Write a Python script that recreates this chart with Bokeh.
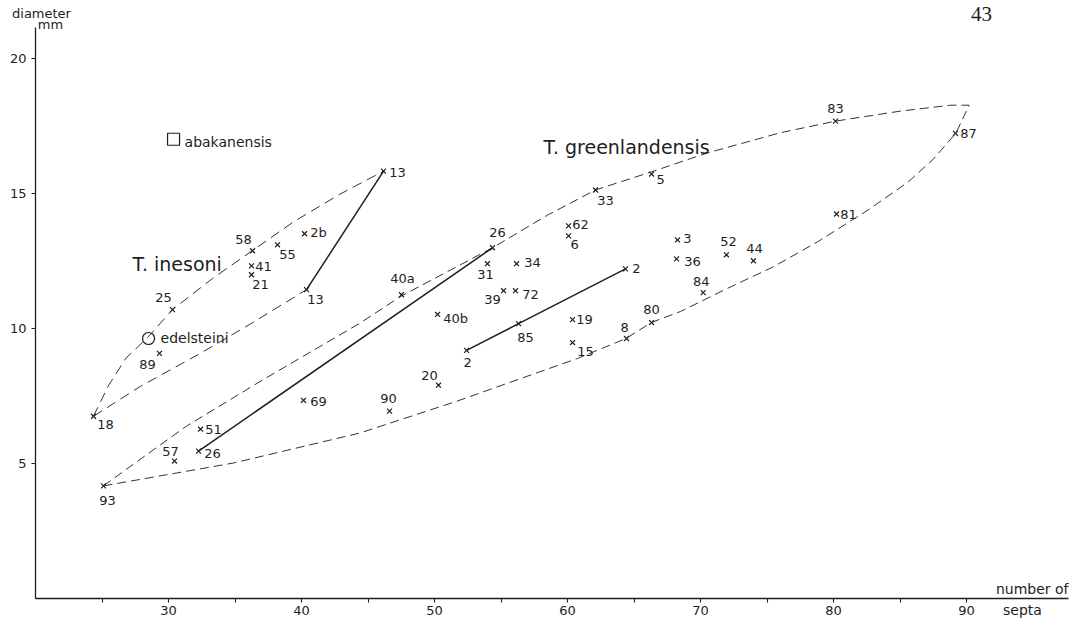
from bokeh.plotting import figure
from bokeh.models import ColumnDataSource, FixedTicker, Range1d
from bokeh.core.properties import value
from bokeh.embed import file_html
from bokeh.resources import INLINE

FONT = "DejaVu Sans"
INK = "#1e1e1e"

# ---- specimens (number of septa vs diameter in mm) ----
specimen_labels = ["18", "93", "57", "51", "26", "89", "25", "58", "41", "21",
                   "55", "2b", "13", "13", "69", "40a", "26", "31", "34", "39",
                   "72", "40b", "85", "2", "2", "62", "6", "19", "15", "8",
                   "80", "20", "90", "33", "5", "3", "36", "52", "44", "84",
                   "81", "83", "87"]
septa = [24.36, 25.11, 30.45, 32.41, 32.26, 29.32, 30.30, 36.32, 36.24, 36.24,
         38.20, 40.23, 40.38, 46.17, 40.15, 47.52, 54.36, 53.98, 56.17, 55.19,
         56.09, 50.23, 56.32, 52.41, 64.36, 60.08, 60.08, 60.38, 60.38, 64.44,
         66.32, 50.30, 46.62, 62.11, 66.32, 68.27, 68.20, 71.95, 73.98, 70.20,
         80.23, 80.15, 89.17]
diameter = [6.75, 4.17, 5.09, 6.27, 5.46, 9.08, 10.70, 12.88, 12.32, 11.99,
            13.10, 13.51, 11.44, 15.83, 7.34, 11.25, 12.99, 12.40, 12.40, 11.40,
            11.40, 10.52, 10.18, 9.19, 12.21, 13.80, 13.43, 10.33, 9.48, 9.63,
            10.22, 7.90, 6.94, 15.13, 15.72, 13.28, 12.58, 12.73, 12.51, 11.33,
            14.24, 17.68, 17.23]

# label placement relative to each mark (screen pixels, +y down)
label_dx = [12, 4, -4, 13, 14, -12, -9, -9, 12, 9,
            10, 14, 9, 14, 15, 1, 5, -2, 16, -11,
            15, 18, 7, 1, 11, 12, 6, 12, 13, -2,
            0, -9, -1, 10, 9, 10, 16, 2, 1, -2,
            12, 0, 13]
label_dy = [8, 15, -10, 0, 2, 11, -12, -11, 1, 10,
            10, -1, 10, 1, 1, -16, -15, 11, -1, 9,
            4, 4, 14, 12, 0, -1, 9, 0, 9, -11,
            -13, -10, -13, 11, 5, -1, 3, -13, -12, -11,
            0, -13, 0]

# ---- envelopes ----
greenl_septa = [25.1, 28.0, 31.4, 37.1, 44.4, 47.5, 54.4, 58.5, 62.1, 66.3,
                70.5, 76.0, 80.15, 85.0, 88.8, 90.2,
                89.2, 87.5, 85.6, 82.6, 78.8, 75.5, 72.0, 68.5, 66.3, 64.4,
                60.75, 56.5, 51.7, 44.4, 34.9, 25.1]
greenl_diam = [4.17, 5.2, 6.4, 8.1, 10.2, 11.2, 13.0, 14.2, 15.13, 15.8,
               16.5, 17.25, 17.68, 18.05, 18.27, 18.27,
               17.23, 16.27, 15.42, 14.39, 13.21, 12.29, 11.48, 10.63, 10.22, 9.63,
               8.89, 8.15, 7.31, 6.13, 5.02, 4.17]
ines_upper_septa = [24.36, 25.5, 26.8, 28.5, 30.3, 33.3, 36.3, 39.4, 42.8, 46.17]
ines_upper_diam = [6.75, 7.9, 8.9, 9.7, 10.7, 11.85, 12.88, 13.95, 14.95, 15.83]
ines_lower_septa = [24.36, 27.9, 32.4, 36.2, 40.38]
ines_lower_diam = [6.75, 7.86, 9.08, 10.18, 11.44]

# ---- growth lines of single specimens ----
growth_13_septa = [40.38, 46.17]
growth_13_diam = [11.44, 15.83]
growth_26_septa = [32.26, 54.36]
growth_26_diam = [5.46, 12.99]
growth_2_septa = [52.41, 56.32, 64.36]
growth_2_diam = [9.19, 10.18, 12.21]

# ---- other species ----
other_names = ["abakanensis", "edelsteini"]
other_septa = [30.38, 28.5]
other_diam = [17.01, 9.63]

species_names = ["T. inesoni", "T. greenlandensis"]
species_septa = [27.3, 58.2]
species_diam = [12.4, 16.72]

x_ticks = [30, 40, 50, 60, 70, 80, 90]
x_minor = [25, 35, 45, 55, 65, 75, 85]
y_ticks = [5, 10, 15, 20]
x_axis_extent = (20, 97.67)
y_axis_extent = (0, 21.15)

W, H = 1076, 620
PX_X, PX_Y = 13.3, 27.0
x0 = 20 - 35 / PX_X
y0 = -(H - 598) / PX_Y
p = figure(width=W, height=H, output_backend="svg", toolbar_location=None,
           x_range=Range1d(x0, x0 + W / PX_X), y_range=Range1d(y0, y0 + H / PX_Y),
           min_border=0, min_border_left=0, min_border_right=0,
           min_border_top=0, min_border_bottom=0)
p.outline_line_color = None
p.grid.visible = False
p.background_fill_color = "white"
p.border_fill_color = "white"

for ax in (p.xaxis[0], p.yaxis[0]):
    ax.axis_line_color = INK
    ax.axis_line_width = 1.3
    ax.major_tick_line_color = INK
    ax.minor_tick_line_color = INK
    ax.major_tick_line_width = 1.1
    ax.minor_tick_line_width = 1.1
    ax.major_tick_in = 0
    ax.major_tick_out = 4
    ax.minor_tick_in = 0
    ax.minor_tick_out = 4
    ax.major_label_text_font = FONT
    ax.major_label_text_font_size = "13px"
    ax.major_label_text_color = INK

p.xaxis.ticker = FixedTicker(ticks=x_ticks, minor_ticks=x_minor)
p.xaxis.fixed_location = 0
p.xaxis.bounds = x_axis_extent
p.xaxis.major_label_standoff = 3
p.yaxis.ticker = FixedTicker(ticks=y_ticks)
p.yaxis.fixed_location = 20
p.yaxis.bounds = y_axis_extent
p.yaxis.major_label_standoff = 5

# envelopes
p.line(greenl_septa, greenl_diam, line_color="#333", line_width=1.0, line_dash="9 5")
p.line(ines_upper_septa, ines_upper_diam, line_color="#333", line_width=1.0, line_dash="10 6")
p.line(ines_lower_septa, ines_lower_diam, line_color="#333", line_width=1.0, line_dash="10 6")

# growth lines
for xs, ys in [(growth_13_septa, growth_13_diam), (growth_26_septa, growth_26_diam),
               (growth_2_septa, growth_2_diam)]:
    p.line(xs, ys, line_color=INK, line_width=1.5)

src = ColumnDataSource(dict(x=septa, y=diameter, t=specimen_labels,
                            dx=label_dx, dy=label_dy))
p.scatter("x", "y", source=src, marker="x", size=7, line_width=1.2, color=INK)
p.text("x", "y", text="t", source=src, x_offset="dx", y_offset="dy",
       text_align="center", text_baseline="middle", text_font=value(FONT),
       text_font_size="13px", text_color=INK)

# other species
p.scatter([other_septa[0]], [other_diam[0]], marker="square", size=12,
          fill_color=None, line_color=INK, line_width=1.2)
p.scatter([other_septa[1]], [other_diam[1]], marker="circle", size=12,
          fill_color=None, line_color=INK, line_width=1.2)
p.text(other_septa, other_diam, text=other_names, x_offset=[11, 12], y_offset=[3, 0],
       text_align="left", text_baseline="middle", text_font=value(FONT),
       text_font_size="14px", text_color=INK)

p.text(species_septa, species_diam, text=species_names, text_align="left",
       text_baseline="middle", text_font=value(FONT), text_font_size="19px",
       text_color=INK)

# axis titles (placed by pixel offsets from the axis ends) and page number
p.text([x_axis_extent[1]], [0], text=["number of"], y_offset=[-10],
       text_align="right", text_baseline="middle", text_font=value(FONT),
       text_font_size="14px", text_color=INK)
p.text([x_axis_extent[1]], [0], text=["septa"], x_offset=[-46], y_offset=[11],
       text_align="center", text_baseline="middle", text_font=value(FONT),
       text_font_size="14px", text_color=INK)
p.text([x_axis_extent[0]], [y_axis_extent[1]], text=["diameter"], x_offset=[6],
       y_offset=[-14], text_align="center", text_baseline="middle",
       text_font=value(FONT), text_font_size="13px", text_color=INK)
p.text([x_axis_extent[0]], [y_axis_extent[1]], text=["mm"], x_offset=[15],
       y_offset=[-3], text_align="center", text_baseline="middle",
       text_font=value(FONT), text_font_size="13px", text_color=INK)
p.text([x_axis_extent[1]], [y_axis_extent[1]], text=["43"], x_offset=[-87],
       y_offset=[-13], text_align="center", text_baseline="middle",
       text_font=value("Liberation Serif"), text_font_size="21px", text_color=INK)

open("out.html", "w").write(file_html(p, INLINE))
